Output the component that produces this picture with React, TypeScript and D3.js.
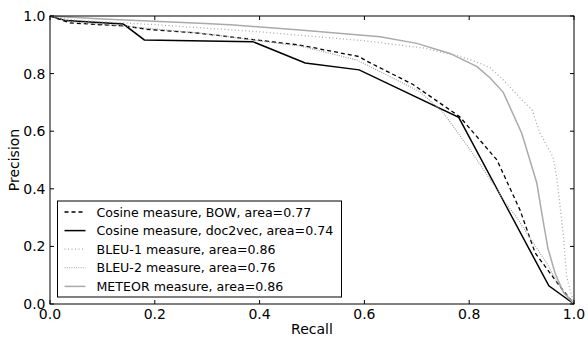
import React from "react";
import * as d3 from "d3";

const bowRecall = [0, 0.038, 0.143, 0.185, 0.286, 0.477, 0.59, 0.605, 0.693, 0.782, 0.853, 0.897, 0.926, 0.967, 1.0];
const bowPrecision = [1.0, 0.976, 0.965, 0.954, 0.94, 0.899, 0.859, 0.843, 0.762, 0.65, 0.5, 0.326, 0.177, 0.076, 0.0];

const d2vRecall = [0, 0.03, 0.14, 0.18, 0.387, 0.487, 0.59, 0.78, 0.952, 1.0];
const d2vPrecision = [1.0, 0.984, 0.972, 0.917, 0.911, 0.837, 0.813, 0.648, 0.063, 0.0];

const bleu1Recall = [0, 0.05, 0.2, 0.4, 0.6, 0.712, 0.782, 0.82, 0.84, 0.865, 0.9, 0.92, 0.935, 0.96, 0.967, 0.98, 0.986, 1.0];
const bleu1Precision = [1.0, 0.985, 0.97, 0.945, 0.914, 0.889, 0.86, 0.836, 0.82, 0.778, 0.71, 0.674, 0.594, 0.51, 0.44, 0.233, 0.094, 0.0];

const bleu2Recall = [0, 0.04, 0.14, 0.29, 0.48, 0.586, 0.611, 0.706, 0.75, 0.8, 0.843, 0.872, 0.89, 0.916, 0.948, 0.973, 1.0];
const bleu2Precision = [1.0, 0.98, 0.965, 0.94, 0.895, 0.847, 0.824, 0.737, 0.666, 0.54, 0.424, 0.344, 0.303, 0.229, 0.142, 0.059, 0.0];

const meteorRecall = [0, 0.1, 0.286, 0.344, 0.477, 0.63, 0.7, 0.763, 0.815, 0.84, 0.865, 0.9, 0.91, 0.929, 0.94, 0.95, 0.964, 0.98, 1.0];
const meteorPrecision = [1.0, 0.99, 0.975, 0.97, 0.951, 0.928, 0.905, 0.87, 0.824, 0.785, 0.735, 0.594, 0.535, 0.42, 0.3, 0.195, 0.107, 0.04, 0.0];

const legendLabels = [
  "Cosine measure, BOW, area=0.77",
  "Cosine measure, doc2vec, area=0.74",
  "BLEU-1 measure, area=0.86",
  "BLEU-2 measure, area=0.76",
  "METEOR measure, area=0.86",
];

const tickValues = [0, 0.2, 0.4, 0.6, 0.8, 1.0];

const series = [
  { recall: bowRecall, precision: bowPrecision, stroke: "#000", width: 1.3, dash: "4,3" },
  { recall: d2vRecall, precision: d2vPrecision, stroke: "#000", width: 1.5, dash: null },
  { recall: bleu1Recall, precision: bleu1Precision, stroke: "#aaa", width: 1.3, dash: "1,2.5" },
  { recall: bleu2Recall, precision: bleu2Precision, stroke: "#999", width: 1.1, dash: "1,1.3" },
  { recall: meteorRecall, precision: meteorPrecision, stroke: "#aaa", width: 1.5, dash: null },
];

const W = 588;
const H = 340;
const margin = { top: 16, right: 14, bottom: 36, left: 50 };
const font = "DejaVu Sans, sans-serif";

export default function App() {
  const x = d3.scaleLinear().domain([0, 1]).range([margin.left, W - margin.right]);
  const y = d3.scaleLinear().domain([0, 1]).range([H - margin.bottom, margin.top]);
  const x0 = x(0), x1 = x(1), y0 = y(0), y1 = y(1);

  const path = (s: typeof series[0]) =>
    d3.line<[number, number]>().x(d => x(d[0])).y(d => y(d[1]))(
      s.recall.map((r, i) => [r, s.precision[i]] as [number, number])
    );

  const tickLen = 4;
  const legX = 57.5, legY = 201, legW = 284, legH = 96, rowH = 18.6;

  return (
    <div style={{ position: "fixed", left: 0, top: 0 }}>
      <svg width={W} height={H} style={{ background: "#fff", display: "block" }}>
        {series.map((s, i) => (
          <path key={i} d={path(s) || ""} fill="none" stroke={s.stroke}
            strokeWidth={s.width} strokeDasharray={s.dash || undefined} />
        ))}
        <rect x={x0} y={y1} width={x1 - x0} height={y0 - y1} fill="none" stroke="#000" strokeWidth={1} />
        {tickValues.map(t => (
          <g key={"t" + t}>
            <line x1={x(t)} x2={x(t)} y1={y0} y2={y0 - tickLen} stroke="#000" />
            <line x1={x(t)} x2={x(t)} y1={y1} y2={y1 + tickLen} stroke="#000" />
            <line x1={x0} x2={x0 + tickLen} y1={y(t)} y2={y(t)} stroke="#000" />
            <line x1={x1} x2={x1 - tickLen} y1={y(t)} y2={y(t)} stroke="#000" />
            <text x={x(t)} y={y0 + 15} textAnchor="middle" fontFamily={font} fontSize={14}>{t.toFixed(1)}</text>
            <text x={x0 - 4.5} y={y(t) + 5} textAnchor="end" fontFamily={font} fontSize={14}>{t.toFixed(1)}</text>
          </g>
        ))}
        <text x={(x0 + x1) / 2} y={334} textAnchor="middle" fontFamily={font} fontSize={14}>Recall</text>
        <text transform={`translate(19,${(y0 + y1) / 2}) rotate(-90)`} textAnchor="middle" fontFamily={font} fontSize={14}>Precision</text>
        <rect x={legX} y={legY} width={legW} height={legH} fill="#fff" stroke="#000" strokeWidth={1} />
        {legendLabels.map((lab, i) => {
          const s = series[i];
          const cy = legY + 11 + i * rowH;
          return (
            <g key={lab}>
              <line x1={legX + 7} x2={legX + 28} y1={cy} y2={cy} stroke={s.stroke}
                strokeWidth={s.width} strokeDasharray={s.dash || undefined} />
              <text x={legX + 39} y={cy + 4.5} fontFamily={font} fontSize={12.6}>{lab}</text>
            </g>
          );
        })}
      </svg>
    </div>
  );
}
